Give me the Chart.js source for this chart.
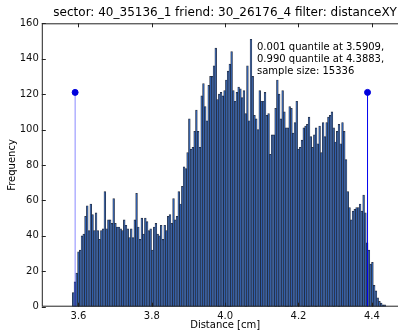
<!DOCTYPE html>
<html>
<head>
<meta charset="utf-8">
<script src="https://cdn.jsdelivr.net/npm/chart.js@4.4.0/dist/chart.umd.min.js"></script>
<style>
  html, body { margin: 0; padding: 0; background: #fff; overflow: hidden; }
  #wrap { width: 398px; height: 332px; overflow: hidden; position: relative; }
</style>
</head>
<body>
<div id="wrap"><canvas id="grafico" width="420" height="332"></canvas></div>
<script>
// histogram counts, one per bin
const counts = [
  8, 14, 19, 31, 32, 40, 41, 51, 57, 43, 58, 52, 43, 53, 43, 38, 43, 44, 65, 44,
  49, 49, 47, 61, 47, 45, 45, 44, 43,
  49, 46, 44, 39, 44, 39, 49, 64, 45, 38, 50, 41, 50, 48, 43, 44, 32, 45, 47, 41,
  40, 46, 38, 46, 43, 51, 52, 47, 61,
  49, 51, 65, 58, 68, 79, 78, 87, 106, 89, 90, 99, 111, 99, 90, 119, 126, 113, 105, 125,
  130, 130, 136, 146, 117, 120, 121, 119, 122, 128, 133, 137,
  144, 122, 116, 121, 124, 123, 118, 122, 109, 136, 105, 151, 130, 108, 106, 100, 122, 116,
  116, 121, 108, 109, 86, 97, 97, 112, 128, 120, 106, 122,
  110, 101, 101, 113, 112, 98, 104, 116, 89, 90, 94, 101, 102, 103, 107, 96, 90, 97,
  101, 92, 102, 87, 104, 96, 104, 107, 108, 110, 101,
  93, 99, 103, 92, 104, 99, 83, 65, 56, 49, 54, 55, 56, 56, 58, 54, 63, 53, 36, 32,
  24, 25, 12, 9, 5, 3, 2, 1, 1
];
const binStart = 3.5832;
const binWidth = 0.0048;
const binCenters = counts.map((c, i) => binStart + binWidth * (i + 0.5));

const quantileLow = 3.5909;
const quantileHigh = 4.3883;
const markerTop = 121;

const xTicks = [3.6, 3.8, 4.0, 4.2, 4.4];
const yTicks = [0, 20, 40, 60, 80, 100, 120, 140, 160];

const titolo = "sector: 40_35136_1 friend: 30_26176_4 filter: distanceXY";
const note = ["0.001 quantile at 3.5909,", "0.990 quantile at 4.3883,", "sample size: 15336"];
const xLabel = "Distance [cm]";
const yLabel = "Frequency";

const FONT = "'DejaVu Sans', 'Liberation Sans', sans-serif";

// frame, inward ticks and all the text, matplotlib style
const cornice = {
  id: "cornice",
  afterDraw(chart) {
    const ctx = chart.ctx;
    const a = chart.chartArea;
    const xs = chart.scales.x, ys = chart.scales.y;
    ctx.save();
    ctx.strokeStyle = "#222";
    ctx.lineWidth = 1;
    ctx.strokeRect(a.left + 0.5, a.top + 0.5, a.right - a.left - 1, a.bottom - a.top - 1);
    ctx.beginPath();
    xTicks.forEach(v => {
      const px = Math.round(xs.getPixelForValue(v)) + 0.5;
      ctx.moveTo(px, a.bottom); ctx.lineTo(px, a.bottom - 4);
      ctx.moveTo(px, a.top); ctx.lineTo(px, a.top + 4);
    });
    yTicks.forEach(v => {
      const py = Math.round(ys.getPixelForValue(v)) + 0.5;
      ctx.moveTo(a.left, py); ctx.lineTo(a.left + 4, py);
      ctx.moveTo(a.right, py); ctx.lineTo(a.right - 4, py);
    });
    ctx.stroke();

    ctx.fillStyle = "#000";
    ctx.textBaseline = "middle";
    ctx.textAlign = "center";
    ctx.font = "12px " + FONT;
    ctx.fillText(titolo, (a.left + a.right) / 2, 12.5);

    ctx.font = "10px " + FONT;
    ctx.fillText(xLabel, (a.left + a.right) / 2, 325);
    ctx.save();
    ctx.translate(12, (a.top + a.bottom) / 2);
    ctx.rotate(-Math.PI / 2);
    ctx.fillText(yLabel, 0, 0);
    ctx.restore();

    ctx.textAlign = "left";
    note.forEach((riga, i) => ctx.fillText(riga, 257, 47.5 + i * 12));
    ctx.restore();
  }
};

const data = {
  datasets: [
    {
      type: "bar",
      data: binCenters.map((x, i) => ({ x: x, y: counts[i] })),
      backgroundColor: "#2e5eae",
      borderColor: "rgba(18,24,40,0.9)",
      borderWidth: 0.7,
      barPercentage: 1,
      categoryPercentage: 1,
      order: 2
    },
    {
      type: "line",
      data: [{ x: quantileLow, y: 0 }, { x: quantileLow, y: markerTop }],
      borderColor: "rgba(60,60,255,0.6)",
      borderWidth: 1,
      pointRadius: [0, 3],
      pointBackgroundColor: "#0000dd",
      pointBorderColor: "#0000dd",
      order: 1
    },
    {
      type: "line",
      data: [{ x: quantileHigh, y: 0 }, { x: quantileHigh, y: markerTop }],
      borderColor: "#0000ee",
      borderWidth: 1,
      pointRadius: [0, 3],
      pointBackgroundColor: "#0000dd",
      pointBorderColor: "#0000dd",
      order: 1
    }
  ]
};

const config = {
  type: "bar",
  data: data,
  plugins: [cornice],
  options: {
    responsive: false,
    animation: false,
    devicePixelRatio: 1,
    layout: { padding: { left: 0, top: 23.3, right: 11.5, bottom: 0 } },
    plugins: {
      legend: { display: false },
      tooltip: { enabled: false },
      title: { display: false }
    },
    scales: {
      x: {
        type: "linear",
        min: 3.5,
        max: 4.5,
        offset: false,
        grid: { display: false, drawTicks: false },
        border: { display: false },
        afterBuildTicks: scale => { scale.ticks = xTicks.map(v => ({ value: v })); },
        afterFit: scale => { scale.height = 25.3; },
        ticks: {
          padding: 4,
          color: "#111",
          font: { family: FONT, size: 10 },
          callback: v => v.toFixed(1),
          maxRotation: 0,
          autoSkip: false
        }
      },
      y: {
        min: 0,
        max: 160,
        grid: { display: false, drawTicks: false },
        border: { display: false },
        afterBuildTicks: scale => { scale.ticks = yTicks.map(v => ({ value: v })); },
        afterFit: scale => { scale.width = 41.8; },
        ticks: {
          padding: 3,
          color: "#111",
          font: { family: FONT, size: 10 }
        }
      }
    }
  }
};

const grafico = new Chart(document.getElementById("grafico"), config);
</script>
</body>
</html>
